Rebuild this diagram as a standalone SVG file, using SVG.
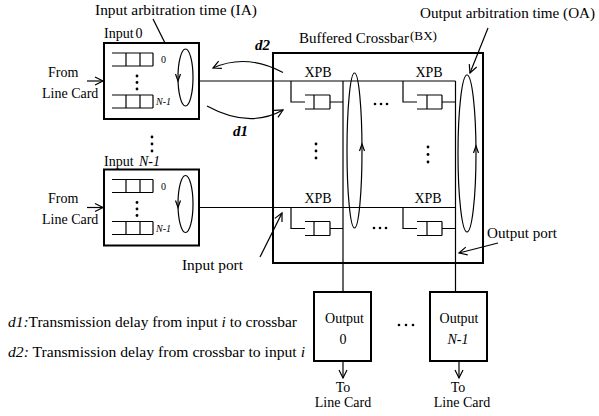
<svg xmlns="http://www.w3.org/2000/svg" width="599" height="416" viewBox="0 0 599 416">
<defs>
<marker id="ah" markerUnits="userSpaceOnUse" markerWidth="12" markerHeight="12" refX="8" refY="4" orient="auto" overflow="visible"><path d="M0,0 L8,4 L0,8" fill="none" stroke="#000" stroke-width="1.2"/></marker>
</defs>
<style>
text{font-family:"Liberation Serif","Times New Roman",serif;fill:#000;font-size:14px}
.box{fill:#fff;stroke:#000;stroke-width:2}
.ln{fill:none;stroke:#000;stroke-width:1.2}
.ar{fill:none;stroke:#000;stroke-width:1.2;marker-end:url(#ah)}
.it{font-style:italic}
.bi{font-style:italic;font-weight:bold;font-size:15px}
.sm{font-size:10px}
.mid{text-anchor:middle}
.lg{font-size:15px}
</style>
<rect width="599" height="416" fill="#fff"/>

<g id="labels">
<text x="95" y="15" class="lg" textLength="162" lengthAdjust="spacingAndGlyphs">Input arbitration time (IA)</text>
<text x="420" y="18" class="lg" textLength="175" lengthAdjust="spacingAndGlyphs">Output arbitration time (OA)</text>
<text x="299" y="43" class="lg" textLength="110" lengthAdjust="spacingAndGlyphs">Buffered Crossbar</text>
<text x="410" y="40" style="font-size:12px" textLength="27" lengthAdjust="spacingAndGlyphs">(BX)</text>
<text x="255" y="50" class="bi">d2</text>
<text x="233" y="136" class="bi">d1</text>
<text x="182" y="270" class="lg" textLength="61" lengthAdjust="spacingAndGlyphs">Input port</text>
<text x="487" y="238" class="lg" textLength="70" lengthAdjust="spacingAndGlyphs">Output port</text>
<text x="48" y="77">From</text>
<text x="42" y="98">Line Card</text>
<text x="48" y="203">From</text>
<text x="42" y="224">Line Card</text>
<text x="343" y="392" class="mid">To</text>
<text x="343" y="407" class="mid">Line Card</text>
<text x="458" y="392" class="mid">To</text>
<text x="462" y="407" class="mid">Line Card</text>
<text x="8" y="327" style="font-size:14.5px" textLength="289" lengthAdjust="spacingAndGlyphs"><tspan class="it">d1:</tspan>Transmission delay from input <tspan class="it">i</tspan> to crossbar</text>
<text x="8" y="357" style="font-size:14.5px" textLength="297" lengthAdjust="spacingAndGlyphs"><tspan class="it">d2:</tspan> Transmission delay from crossbar to input  <tspan class="it">i</tspan></text>
<g fill="#000">
<circle cx="152" cy="137" r="1.4"/><circle cx="152" cy="144" r="1.4"/><circle cx="152" cy="151" r="1.4"/>
<circle cx="399" cy="325" r="1.3"/><circle cx="406" cy="325" r="1.3"/><circle cx="413" cy="325" r="1.3"/>
</g>
</g>

<g id="connectors">
<path class="ln" d="M199,81H455.5M199,207.5H455.5M343,81V292M455.5,81V292"/>
<path class="ar" d="M87,81H103"/>
<path class="ar" d="M87,207.5H103"/>
<path class="ar" d="M343,361V378"/>
<path class="ar" d="M459,361V378"/>
<path class="ar" d="M283,72.5 Q246,53 213,68"/>
<path class="ar" d="M207,106 Q249,129 283,110"/>
<path class="ar" d="M153,19 L174,61"/>
<path class="ar" d="M488,28 L470,73"/>
<path class="ar" d="M260,257 L282,213"/>
<path class="ar" d="M498,243 L459,253"/>
</g>

<g id="input0">
<rect class="box" x="104" y="43" width="95" height="76"/>
<path class="ln" d="M112,53H153M112,66H153M126,53V66M140,53V66M153,53V66"/>
<path class="ln" d="M112,95H153M112,108H153M126,95V108M140,95V108M153,95V108"/>
<g fill="#000"><circle cx="137" cy="76" r="1.4"/><circle cx="137" cy="82.5" r="1.4"/><circle cx="137" cy="89" r="1.4"/></g>
<text x="161" y="63" class="sm">0</text>
<text x="156" y="105" class="sm it">N-1</text>
<ellipse class="ln" cx="185.5" cy="77.5" rx="7.5" ry="28.5"/>
<path class="ln" d="M175.5,74 L178,81 L180.5,74"/>
<text x="104" y="38">Input</text><text x="135.5" y="38">0</text>
</g>

<g id="inputN1">
<g transform="translate(0,126.5)">
<rect class="box" x="104" y="43" width="95" height="76"/>
<path class="ln" d="M112,53H153M112,66H153M126,53V66M140,53V66M153,53V66"/>
<path class="ln" d="M112,95H153M112,108H153M126,95V108M140,95V108M153,95V108"/>
<g fill="#000"><circle cx="137" cy="76" r="1.4"/><circle cx="137" cy="82.5" r="1.4"/><circle cx="137" cy="89" r="1.4"/></g>
<text x="161" y="63" class="sm">0</text>
<text x="156" y="105" class="sm it">N-1</text>
<ellipse class="ln" cx="185.5" cy="77.5" rx="7.5" ry="28.5"/>
<path class="ln" d="M175.5,74 L178,81 L180.5,74"/>
</g>
<text x="104" y="166">Input</text><text x="139" y="166" class="it">N-1</text>
</g>

<g id="crossbar">
<rect x="273" y="53" width="210" height="210" fill="none" stroke="#000" stroke-width="2"/>
<path class="ln" d="M291,81V102H305M305,95H330M305,109H330M314,95V109M330,95V109M330,102H343"/>
<path class="ln" d="M403,81V102H417M417,95H442M417,109H442M427,95V109M442,95V109M442,102H455.5"/>
<path class="ln" d="M291,207.5V228.5H305M305,221.5H330M305,235.5H330M314,221.5V235.5M330,221.5V235.5M330,228.5H343"/>
<path class="ln" d="M403,207.5V228.5H417M417,221.5H442M417,235.5H442M427,221.5V235.5M442,221.5V235.5M442,228.5H455.5"/>
<text x="318" y="77" class="mid">XPB</text>
<text x="429" y="77" class="mid">XPB</text>
<text x="318" y="203" class="mid">XPB</text>
<text x="428" y="203" class="mid">XPB</text>
<ellipse class="ln" cx="354.5" cy="150.5" rx="7.5" ry="77.5"/>
<path class="ln" d="M359.5,151 L362,144 L364.5,151"/>
<ellipse class="ln" cx="467" cy="153.5" rx="9" ry="78.5"/>
<path class="ln" d="M473.5,153 L476,146 L478.5,153"/>
<g fill="#000">
<circle cx="375" cy="104" r="1.3"/><circle cx="381" cy="104" r="1.3"/><circle cx="387" cy="104" r="1.3"/>
<circle cx="374" cy="228" r="1.3"/><circle cx="380" cy="228" r="1.3"/><circle cx="386" cy="228" r="1.3"/>
<circle cx="316" cy="144" r="1.4"/><circle cx="316" cy="151" r="1.4"/><circle cx="316" cy="158" r="1.4"/>
<circle cx="428" cy="147" r="1.4"/><circle cx="428" cy="154.5" r="1.4"/><circle cx="428" cy="162" r="1.4"/>
</g>
</g>

<g id="output0">
<rect class="box" x="314" y="292" width="57" height="69"/>
<text x="344.5" y="323" class="mid">Output</text>
<text x="343" y="344" class="mid">0</text>
</g>
<g id="outputN1">
<rect class="box" x="430" y="292" width="57" height="69"/>
<text x="459" y="323" class="mid">Output</text>
<text x="458" y="344" class="mid it">N-1</text>
</g>
</svg>
